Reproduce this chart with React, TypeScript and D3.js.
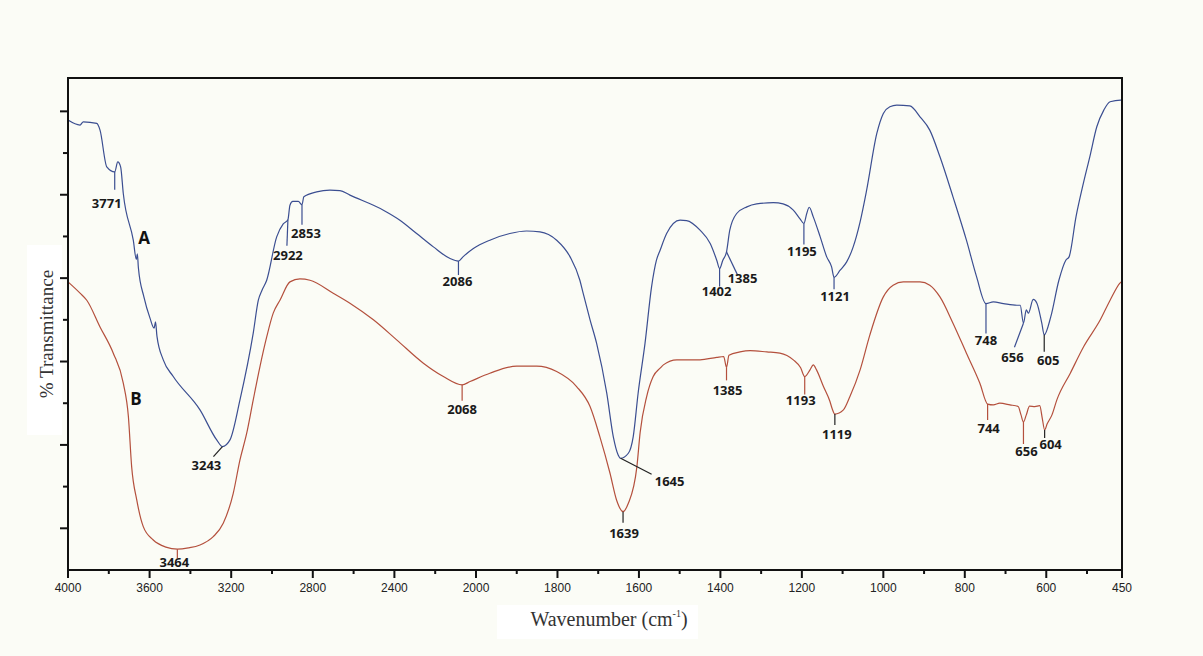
import React from "react";
import * as d3 from "d3";

// FTIR spectra: wavenumber (cm^-1) and % transmittance (arbitrary offset units)
const waveA = [4000,3941,3925,3859,3843,3810,3771,3756,3742,3729,3680,3665,3660,3655,3628,3598,3578,3571,3564,3533,3484,3353,3271,3243,3206,3157,3092,3067,3049,3026,2977,2945,2922,2912,2898,2871,2853,2844,2781,2716,2667,2618,2454,2373,2291,2209,2127,2086,2064,2013,1966,1917,1876,1843,1802,1769,1745,1737,1720,1704,1679,1663,1651,1645,1626,1614,1602,1585,1569,1557,1548,1532,1499,1483,1450,1425,1409,1402,1394,1385,1377,1360,1335,1311,1270,1246,1221,1205,1195,1188,1182,1172,1155,1139,1127,1121,1106,1090,1074,1057,1041,1016,1000,984,967,935,910,886,861,829,796,771,748,730,705,672,664,656,649,644,632,623,611,605,589,569,552,544,527,509,496,486,476,467,452,450];
const transA = [107.9,106.7,107.5,107.1,105.5,96.7,95.5,97.9,96.7,90.3,79.1,74.5,75.8,72.5,65.5,60.4,58.0,59.5,56.1,50.4,46.4,38.4,31.2,29.6,31.2,40.8,56.8,64.7,67.1,69.5,79.9,83.0,84.0,87.5,88.4,88.4,87.6,89.5,90.7,91.1,91.0,89.9,86.3,83.9,80.7,77.5,74.7,74.1,75.1,77.1,79.1,80.7,81.3,81.1,79.1,75.1,69.5,66.4,60.0,54.4,42.4,32.0,27.6,26.8,28.0,32.0,42.4,54.4,67.9,74.3,76.7,80.7,83.9,83.8,81.5,78.3,74.3,72.3,74.3,76.3,81.5,85.5,87.1,87.8,88.1,87.8,86.3,84.3,83.1,85.5,87.0,84.7,79.9,75.1,72.7,70.2,71.9,73.9,77.5,83.5,91.1,104.7,109.5,111.1,111.5,111.3,108.7,105.5,99.1,89.5,79.1,70.3,63.9,64.3,63.9,63.5,63.5,59.2,62.4,61.6,64.9,64.0,59.2,56.4,60.7,69.5,74.3,75.1,84.7,92.7,99.1,106.3,110.3,112.3,112.7,112.7];

const waveB = [4000,3941,3908,3843,3778,3729,3704,3688,3663,3631,3582,3520,3464,3410,3353,3288,3239,3190,3157,3124,3092,3059,3026,2994,2961,2912,2863,2814,2700,2618,2503,2389,2258,2160,2068,2029,1966,1900,1851,1802,1753,1720,1696,1671,1655,1639,1626,1605,1597,1581,1565,1548,1540,1507,1450,1409,1392,1385,1379,1352,1327,1286,1254,1221,1203,1193,1180,1172,1164,1147,1131,1126,1119,1098,1082,1057,1033,1000,976,951,910,886,861,829,796,763,744,730,714,689,669,662,656,649,641,628,616,610,604,598,586,574,541,508,481,467,453,450];
const transB = [69.1,66.4,64.7,58.3,52.0,44.8,36.8,24.8,16.8,10.4,7.2,5.5,5.0,5.3,6.0,8.0,11.2,18.4,26.4,32.8,40.8,48.8,55.9,61.6,64.7,69.1,69.8,69.5,66.4,64.0,60.0,55.2,49.6,46.4,44.4,45.2,47.2,48.9,48.9,47.6,44.0,39.2,32.0,23.2,16.8,14.0,16.0,24.8,33.0,41.6,46.4,48.4,49.2,50.4,50.4,51.0,51.2,48.6,51.5,52.3,52.6,52.3,52.0,50.4,48.5,46.4,48.0,49.2,48.0,44.0,40.4,38.8,37.4,38.4,41.6,48.0,56.4,65.5,68.3,69.1,69.1,68.3,65.5,59.2,52.0,44.8,39.8,39.6,40.0,39.6,39.2,37.2,35.5,37.2,39.3,39.2,39.4,36.5,33.6,35.0,37.2,40.8,47.2,53.6,60.0,64.7,68.8,69.3];

// Labelled band positions
const peaksA = [3771, 2922, 2853, 2086, 3243, 1645, 1402, 1385, 1195, 1121, 748, 656, 605];
const peaksB = [3464, 2068, 1639, 1385, 1193, 1119, 744, 656, 604];

// Axis ticks
const majorTicksX = [4000, 3600, 3200, 2800, 2400, 2000, 1800, 1600, 1400, 1200, 1000, 800, 600, 450];
const minorTicksX = [3800, 3400, 3000, 2600, 2200, 1900, 1700, 1500, 1300, 1100, 900, 700, 500];
const majorTicksY = [10, 30, 50, 70, 90, 110];
const minorTicksY = [20, 40, 60, 80, 100];

// Leader/label placement relative to each band (px): leader end, text anchor, dark leader flag
const placeA = [
  { lx: 0, ly: 18, tx: -8, ty: 36, dark: false },
  { lx: -1, ly: 26, tx: 0, ty: 40, dark: false },
  { lx: 0, ly: 20, tx: 4, ty: 33, dark: false },
  { lx: 0, ly: 14, tx: -1, ty: 25, dark: false },
  { lx: -9, ly: 10, tx: -16, ty: 23, dark: true },
  { lx: 31, ly: 16, tx: 49, ty: 28, dark: true },
  { lx: 0, ly: 18, tx: -3, ty: 27, dark: false },
  { lx: 11, ly: 23, tx: 16, ty: 31, dark: false },
  { lx: 0, ly: 21, tx: -2, ty: 32, dark: false },
  { lx: 0, ly: 12, tx: 1, ty: 24, dark: false },
  { lx: 0, ly: 30, tx: 0, ty: 41, dark: false },
  { lx: -9, ly: 24, tx: -11, ty: 39, dark: false },
  { lx: 0, ly: 17, tx: 4, ty: 30, dark: true },
];
const placeB = [
  { lx: 0, ly: 9, tx: -3, ty: 18, dark: false },
  { lx: 0, ly: 16, tx: 0, ty: 29, dark: false },
  { lx: 0, ly: 11, tx: 1, ty: 26, dark: true },
  { lx: 0, ly: 13, tx: 1, ty: 28, dark: false },
  { lx: 0, ly: 18, tx: -4, ty: 28, dark: false },
  { lx: 0, ly: 11, tx: 2, ty: 25, dark: true },
  { lx: 0, ly: 16, tx: 1, ty: 29, dark: false },
  { lx: 0, ly: 22, tx: 3, ty: 34, dark: false },
  { lx: 0, ly: 8, tx: 6, ty: 19, dark: true },
];

const W = 1203;
const H = 656;
const BLUE = "#3b4e91";
const RED = "#b4503d";
const BG = "#fbfcf6";

const x = d3.scaleLinear().domain([4000, 2000, 500, 450]).range([68, 476, 1087, 1122]);
const y = d3.scaleLinear().domain([0, 118]).range([570, 78]);

function valueAt(waves: number[], trans: number[], wn: number): number {
  for (let i = 0; i < waves.length - 1; i++) {
    const a = waves[i];
    const b = waves[i + 1];
    if (wn <= a && wn >= b) {
      const t = a === b ? 0 : (a - wn) / (a - b);
      return trans[i] + t * (trans[i + 1] - trans[i]);
    }
  }
  return trans[trans.length - 1];
}

const lineGen = d3
  .line<[number, number]>()
  .x((d) => x(d[0]))
  .y((d) => y(d[1]))
  .curve(d3.curveMonotoneX);

function Annotations({
  waves,
  trans,
  peaks,
  place,
  color,
}: {
  waves: number[];
  trans: number[];
  peaks: number[];
  place: { lx: number; ly: number; tx: number; ty: number; dark: boolean }[];
  color: string;
}) {
  return (
    <g>
      {peaks.map((p, i) => {
        const px = x(p);
        const py = y(valueAt(waves, trans, p));
        const l = place[i];
        return (
          <g key={p + "-" + i}>
            <line
              x1={px}
              y1={py}
              x2={px + l.lx}
              y2={py + l.ly}
              stroke={l.dark ? "#222" : color}
              strokeWidth={1.2}
            />
            <text
              x={px + l.tx}
              y={py + l.ty}
              textAnchor="middle"
              fontFamily="'Open Sans', 'DejaVu Sans', sans-serif"
              fontWeight={700}
              fontSize={13}
              fill="#1a1a1a"
            >
              {p}
            </text>
          </g>
        );
      })}
    </g>
  );
}

export default function App() {
  const dataA = waveA.map((w, i) => [w, transA[i]] as [number, number]);
  const dataB = waveB.map((w, i) => [w, transB[i]] as [number, number]);
  const x0 = x(4000);
  const x1 = x(450);
  const yTop = y(118);
  const yBot = y(0);

  return (
    <svg
      width={W}
      height={H}
      style={{ position: "absolute", left: 0, top: 0, display: "block" }}
    >
      <rect x={0} y={0} width={W} height={H} fill={BG} />

      {/* axis title boxes */}
      <rect x={27} y={245} width={35} height={190} fill="#ffffff" />
      <rect x={497} y={605} width={201} height={34} fill="#ffffff" />

      {/* spectra */}
      <path d={lineGen(dataB) || ""} fill="none" stroke={RED} strokeWidth={1.2} />
      <path d={lineGen(dataA) || ""} fill="none" stroke={BLUE} strokeWidth={1.2} />

      <Annotations waves={waveA} trans={transA} peaks={peaksA} place={placeA} color={BLUE} />
      <Annotations waves={waveB} trans={transB} peaks={peaksB} place={placeB} color={RED} />

      {/* series labels */}
      <text x={144} y={244} textAnchor="middle" fontFamily="'Open Sans', sans-serif" fontWeight={700} fontSize={17} fill="#111">
        A
      </text>
      <text x={136} y={405} textAnchor="middle" fontFamily="'Open Sans', sans-serif" fontWeight={700} fontSize={17} fill="#111">
        B
      </text>

      {/* frame */}
      <rect x={x0} y={yTop} width={x1 - x0} height={yBot - yTop} fill="none" stroke="#111" strokeWidth={2} />

      {/* x ticks */}
      {majorTicksX.map((t) => (
        <g key={"mx" + t}>
          <line x1={x(t)} x2={x(t)} y1={yBot} y2={yBot + 8} stroke="#111" strokeWidth={2} />
          <text
            x={x(t)}
            y={yBot + 22}
            textAnchor="middle"
            fontFamily="'Liberation Sans', Arial, sans-serif"
            fontSize={12}
            fill="#222"
          >
            {t}
          </text>
        </g>
      ))}
      {minorTicksX.map((t) => (
        <line key={"nx" + t} x1={x(t)} x2={x(t)} y1={yBot} y2={yBot + 4} stroke="#111" strokeWidth={2} />
      ))}

      {/* y ticks */}
      {majorTicksY.map((t) => (
        <line key={"my" + t} x1={x0 - 8} x2={x0} y1={y(t)} y2={y(t)} stroke="#111" strokeWidth={2} />
      ))}
      {minorTicksY.map((t) => (
        <line key={"ny" + t} x1={x0 - 5} x2={x0} y1={y(t)} y2={y(t)} stroke="#111" strokeWidth={2} />
      ))}

      {/* axis titles */}
      <text
        transform="translate(53,334) rotate(-90)"
        textAnchor="middle"
        fontFamily="'Liberation Serif', 'Times New Roman', serif"
        fontSize={19}
        fill="#333"
      >
        % Transmittance
      </text>
      <text
        x={609}
        y={626}
        textAnchor="middle"
        fontFamily="'Liberation Serif', 'Times New Roman', serif"
        fontSize={20}
        fill="#333"
      >
        Wavenumber (cm
        <tspan fontSize={10} dy={-9}>-1</tspan>
        <tspan dy={9}>)</tspan>
      </text>
    </svg>
  );
}
